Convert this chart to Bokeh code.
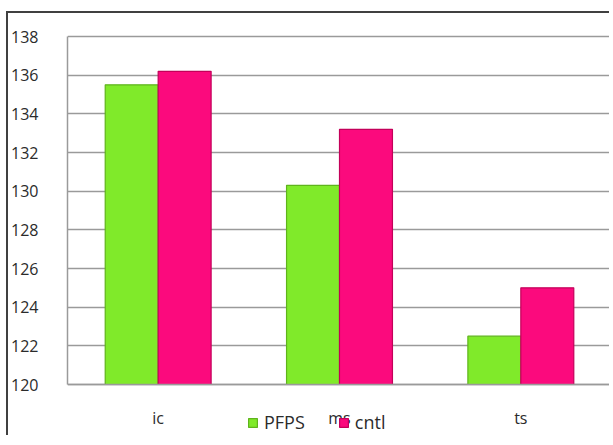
from bokeh.plotting import figure
from bokeh.models import (ColumnDataSource, FactorRange, FixedTicker, Legend, LegendItem,
                          CategoricalAxis, Range1d)
from bokeh.transform import dodge
from bokeh.embed import file_html
from bokeh.resources import INLINE

categories = ["ic", "ms", "ts"]
pfps = [135.5, 130.3, 122.5]
cntl = [136.2, 133.2, 125.0]
series_names = ["PFPS", "cntl"]
y_ticks = [120, 122, 124, 126, 128, 130, 132, 134, 136, 138]

green = "#80ea2a"
green_edge = "#5fb41c"
pink = "#fb0a7d"
pink_edge = "#c4005a"
font = "Open Sans"
grid_col = "#9a9a9a"
text_col = "#2b2b2b"

src = ColumnDataSource(dict(cat=categories, pfps=pfps, cntl=cntl))

# frame spans to the bottom of the canvas; 120 sits 53px above it, 138 sits 2px below the top
y_min, y_max = y_ticks[0], y_ticks[-1]
px_per_unit = 348 / (y_max - y_min)
y_start = y_min - 53 / px_per_unit
y_end = y_max + 2 / px_per_unit

p = figure(width=603, height=424, x_range=FactorRange(*categories, range_padding=0),
           y_range=Range1d(y_start, y_end), output_backend="svg", toolbar_location=None,
           x_axis_location=None,
           min_border_left=59, min_border_right=0, min_border_top=21, min_border_bottom=0,
           margin=(11, 0, 0, 6),
           styles={"border-left": "2px solid #404040", "border-top": "2px solid #404040"})

p.outline_line_color = None
p.background_fill_color = "white"
p.border_fill_color = "white"

r1 = p.vbar(x=dodge("cat", -0.146, range=p.x_range), top="pfps", bottom=y_min, width=0.292,
            source=src, fill_color=green, line_color=green_edge, line_width=1.2)
r2 = p.vbar(x=dodge("cat", 0.146, range=p.x_range), top="cntl", bottom=y_min, width=0.292,
            source=src, fill_color=pink, line_color=pink_edge, line_width=1.2)

# y axis
p.yaxis.ticker = FixedTicker(ticks=y_ticks)
p.yaxis.bounds = (y_min, y_max)
p.yaxis.major_tick_line_color = None
p.yaxis.major_tick_out = 0
p.yaxis.minor_tick_line_color = None
p.yaxis.minor_tick_out = 0
p.yaxis.axis_line_color = grid_col
p.yaxis.axis_line_width = 1.5
p.yaxis.major_label_standoff = 29
p.yaxis.major_label_text_font = font
p.yaxis.major_label_text_font_size = "16px"
p.yaxis.major_label_text_color = text_col

# x axis drawn at y = 120 inside the frame
xaxis = CategoricalAxis(fixed_location=y_min)
xaxis.major_tick_line_color = None
xaxis.major_tick_out = 0
xaxis.axis_line_color = grid_col
xaxis.axis_line_width = 1.5
xaxis.major_label_standoff = 22
xaxis.major_label_text_font = font
xaxis.major_label_text_font_size = "16px"
xaxis.major_label_text_color = text_col
p.add_layout(xaxis, "below")

p.xgrid.grid_line_color = None
p.ygrid.ticker = FixedTicker(ticks=y_ticks)
p.ygrid.grid_line_color = grid_col
p.ygrid.grid_line_width = 1.5

legend = Legend(items=[LegendItem(label=series_names[0], renderers=[r1]),
                       LegendItem(label=series_names[1], renderers=[r2])],
                orientation="horizontal", location=(180, 3),
                padding=0, margin=0, spacing=33, glyph_width=11, glyph_height=11,
                label_standoff=6, label_text_font=font, label_text_font_size="18px",
                label_text_color=text_col, background_fill_alpha=0, border_line_color=None)
p.add_layout(legend, "center")

open("out.html", "w").write(file_html(p, INLINE))
